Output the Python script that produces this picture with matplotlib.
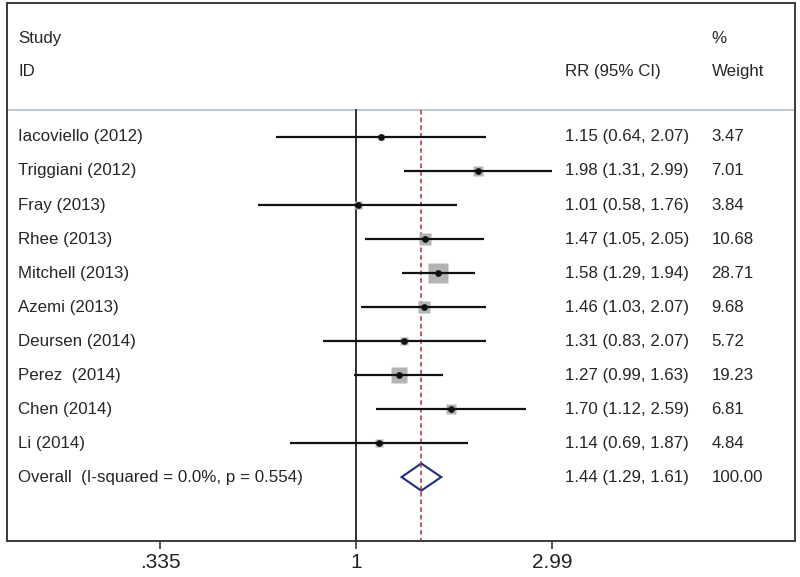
import matplotlib.pyplot as plt
import matplotlib.transforms as mtransforms
from matplotlib.patches import Polygon
import numpy as np

plt.rcParams['font.family'] = ['Liberation Sans', 'DejaVu Sans']

studies = ['Iacoviello (2012)', 'Triggiani (2012)', 'Fray (2013)', 'Rhee (2013)',
           'Mitchell (2013)', 'Azemi (2013)', 'Deursen (2014)', 'Perez  (2014)',
           'Chen (2014)', 'Li (2014)']
rr = [1.15, 1.98, 1.01, 1.47, 1.58, 1.46, 1.31, 1.27, 1.70, 1.14]
lo = [0.64, 1.31, 0.58, 1.05, 1.29, 1.03, 0.83, 0.99, 1.12, 0.69]
hi = [2.07, 2.99, 1.76, 2.05, 1.94, 2.07, 2.07, 1.63, 2.59, 1.87]
weights = [3.47, 7.01, 3.84, 10.68, 28.71, 9.68, 5.72, 19.23, 6.81, 4.84]

overall_label = 'Overall  (I-squared = 0.0%, p = 0.554)'
overall_rr, overall_lo, overall_hi = 1.44, 1.29, 1.61
overall_w = 100.00

xticks = [0.335, 1, 2.99]
xticklabels = ['.335', '1', '2.99']

fig = plt.figure(figsize=(8, 5.77), dpi=100)
ax = fig.add_axes([7 / 800, 1 - 541 / 577, 788 / 800, 538 / 577])
ax.set_xscale('log')
ax.set_xlim(0.1423, 11.62)
ax.set_ylim(11.88, -3.94)

for s in ax.spines.values():
    s.set_color('#3a3a3a')
    s.set_linewidth(1.4)

ax.set_yticks([])
ax.set_xticks(xticks)
ax.set_xticklabels(xticklabels, fontsize=15, color='#222222')
ax.xaxis.set_minor_locator(plt.NullLocator())
ax.tick_params(axis='x', length=6, width=1.2, color='#3a3a3a', pad=3)

rows = np.arange(len(studies))
yhead = -0.794

# header separator
ax.axhline(yhead, color='#b4c0cc', lw=1.2)
# null line and overall effect line
ax.plot([1, 1], [yhead, 11.88], color='#222222', lw=1.3, clip_on=False)
ax.plot([overall_rr, overall_rr], [yhead, 11.88], color='#b03030', lw=1.1, ls=(0, (3, 2)))

# weight boxes
for y, r, w in zip(rows, rr, weights):
    ax.plot(r, y, marker='s', ms=2.6 * np.sqrt(w), color='#b3b3b3', mec='none', ls='none')
for y, r, l, h in zip(rows, rr, lo, hi):
    ax.plot([l, h], [y, y], color='#111111', lw=1.6, solid_capstyle='butt')
ax.plot(rr, rows, 'o', ms=3.8, color='#111111', ls='none')

# overall diamond
yo = len(studies)
dia = Polygon([[overall_lo, yo], [overall_rr, yo - 0.4], [overall_hi, yo], [overall_rr, yo + 0.4]],
              closed=True, facecolor='white', edgecolor='#1f2d7a', lw=1.5, zorder=3)
ax.add_patch(dia)
ax.plot([overall_rr, overall_rr], [yo - 0.4, yo + 0.4], color='#b03030', lw=1.1, ls=(0, (3, 2)), zorder=4)

trans = mtransforms.blended_transform_factory(ax.transAxes, ax.transData)
fs = 12.2
tc = '#262626'
xs, xr, xw = 0.014, 0.708, 0.894

ax.text(xs, -2.91, 'Study', transform=trans, va='center', fontsize=fs, color=tc)
ax.text(xs, -1.94, 'ID', transform=trans, va='center', fontsize=fs, color=tc)
ax.text(xr, -1.94, 'RR (95% CI)', transform=trans, va='center', fontsize=fs, color=tc)
ax.text(xw, -2.91, '%', transform=trans, va='center', fontsize=fs, color=tc)
ax.text(xw, -1.94, 'Weight', transform=trans, va='center', fontsize=fs, color=tc)

for y, name, r, l, h, w in zip(rows, studies, rr, lo, hi, weights):
    ax.text(xs, y, name, transform=trans, va='center', fontsize=fs, color=tc)
    ax.text(xr, y, f'{r:.2f} ({l:.2f}, {h:.2f})', transform=trans, va='center', fontsize=fs, color=tc)
    ax.text(xw, y, f'{w:.2f}', transform=trans, va='center', fontsize=fs, color=tc)

ax.text(xs, yo, overall_label, transform=trans, va='center', fontsize=fs, color=tc)
ax.text(xr, yo, f'{overall_rr:.2f} ({overall_lo:.2f}, {overall_hi:.2f})', transform=trans,
        va='center', fontsize=fs, color=tc)
ax.text(xw, yo, f'{overall_w:.2f}', transform=trans, va='center', fontsize=fs, color=tc)

fig.savefig('out.png', dpi=100)
